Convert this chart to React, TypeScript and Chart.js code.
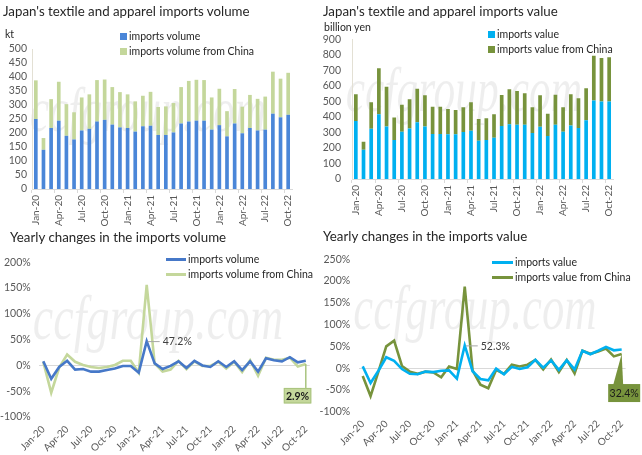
import React, { useEffect, useRef } from 'react';
import { Chart, registerables } from 'chart.js';
Chart.register(...registerables);

const months = ['Jan-20','Feb-20','Mar-20','Apr-20','May-20','Jun-20','Jul-20','Aug-20','Sep-20','Oct-20','Nov-20','Dec-20','Jan-21','Feb-21','Mar-21','Apr-21','May-21','Jun-21','Jul-21','Aug-21','Sep-21','Oct-21','Nov-21','Dec-21','Jan-22','Feb-22','Mar-22','Apr-22','May-22','Jun-22','Jul-22','Aug-22','Sep-22','Oct-22'];

// kt
const importsVolume = [250,140,218,244,190,177,209,215,241,247,230,220,218,205,224,226,193,193,202,234,241,244,244,212,228,188,234,199,218,209,212,269,256,265];
const importsVolumeChina = [138,42,103,139,113,97,118,123,148,144,134,126,120,108,109,121,100,102,105,130,145,146,145,115,130,90,123,95,118,113,118,150,138,150];
// billion yen
const importsValue = [374,189,324,417,339,251,305,326,365,339,290,290,288,288,303,311,247,251,266,341,352,350,349,296,337,277,350,305,344,329,378,505,500,500];
const importsValueChina = [172,51,170,296,256,146,174,187,217,200,176,176,163,157,159,183,140,140,151,200,226,217,203,166,202,144,193,157,202,191,206,289,280,284];
// yearly changes, %
const volumeYoY = [8,-26,-3,9,-8,-7,-12,-12,-9,-6,-1,-1,-14,47.2,4,-7,-1,8,-5,9,0,-3,8,-3,8,-9,8,-12,14,10,8,16,6,9];
const volumeChinaYoY = [7,-53,-4,21,7,1,-3,-5,-3,1,9,9,-14,156,4,-12,-8,9,-7,8,-1,-1,7,-6,7,-13,10,-20,15,11,11,15,-2,2.9];
const valueYoY = [4,-34,-6,25,17,-2,-13,-14,-8,-9,-6,-5,-24,52.3,-7,-25,-28,-1,-14,3,-2,2,19,1,18,-4,18,-3,40,32,40,49,41,43];
const valueChinaYoY = [-18,-64,-8,50,63,5,-8,-13,-8,-10,-21,4,-2,187,-5,-38,-46,-4,-13,8,4,8,19,-3,20,-9,19,-12,40,33,38,45,27,32.4];

const FONT = 'Lato, "Noto Sans", sans-serif';
const FS = 10.5;
const tickFont = { family: FONT, size: FS, lineHeight: 1 };
const xTickFont = { family: FONT, size: 10, lineHeight: 1 };
const tickColor = '#595959';
const textColor = '#262626';

const C_VOL = '#4a86d8';
const C_VOL_CN = '#c4d79b';
const C_VAL = '#00b0f0';
const C_VAL_CN = '#77933c';
const C_LINE_VOL = '#4678c8';

const monthTick = (_v: any, i: number) => (i % 3 === 0 ? months[i] : '');

function barConfig(a: number[], b: number[], la: string, lb: string, ca: string, cb: string, max: number, step: number, pad: any, xh: number, yw: number, ypad: number): any {
  return {
    type: 'bar',
    data: {
      labels: months,
      datasets: [
        { label: la, data: a, backgroundColor: ca, stack: 's', barPercentage: 0.48, categoryPercentage: 1 },
        { label: lb, data: b, backgroundColor: cb, stack: 's', barPercentage: 0.48, categoryPercentage: 1 },
      ],
    },
    options: {
      responsive: false,
      animation: false,
      maintainAspectRatio: false,
      layout: { padding: pad },
      plugins: { legend: { display: false }, tooltip: { enabled: false }, title: { display: false } },
      scales: {
        x: {
          stacked: true,
          offset: true,
          grid: {
            offset: true,
            drawOnChartArea: false,
            drawTicks: true,
            tickLength: 4,
            color: (c: any) => (c.index % 3 === 0 ? '#d9d9d9' : 'rgba(0,0,0,0)'),
          },
          border: { color: '#d9d9d9', width: 1 },
          ticks: { autoSkip: false, minRotation: 90, maxRotation: 90, padding: 2, font: xTickFont, color: tickColor, callback: monthTick },
          afterFit: (s: any) => { s.height = xh; },
        },
        y: {
          stacked: true,
          min: 0,
          max,
          grid: { display: false, drawTicks: false },
          border: { color: '#e3e0d4', width: 1 },
          ticks: { stepSize: step, autoSkip: false, padding: ypad, font: tickFont, color: tickColor },
          afterFit: (s: any) => { s.width = yw; },
        },
      },
    },
  };
}

function calloutPlugin(items: any[]) {
  return {
    id: 'callouts',
    afterDatasetsDraw(chart: any) {
      const ctx = chart.ctx;
      items.forEach((it) => {
        const el = chart.getDatasetMeta(it.ds).data[it.idx];
        const v = chart.data.datasets[it.ds].data[it.idx];
        const x = el.x;
        const y = el.y;
        const label = v + '%';
        ctx.save();
        if (it.kind === 'plain') {
          ctx.strokeStyle = '#a6a6a6';
          ctx.lineWidth = 1;
          ctx.beginPath();
          ctx.moveTo(x + 1, y + 0.5);
          ctx.lineTo(x + 13, y + 0.5);
          ctx.stroke();
          ctx.fillStyle = '#404040';
          ctx.font = FS + 'px ' + FONT;
          ctx.textAlign = 'left';
          ctx.textBaseline = 'middle';
          ctx.fillText(label, x + 16, y + 1);
        } else if (it.kind === 'boxLine') {
          const l = x - 22, r = x + 5.5, t = y + 24, b = y + 39.5;
          ctx.strokeStyle = it.line;
          ctx.lineWidth = 1.5;
          ctx.beginPath();
          ctx.moveTo(x, y);
          ctx.lineTo(x, t);
          ctx.stroke();
          ctx.fillStyle = it.fill;
          ctx.fillRect(l, t, r - l, b - t);
          ctx.strokeStyle = it.line;
          ctx.lineWidth = 1;
          ctx.strokeRect(l + 0.5, t + 0.5, r - l - 1, b - t - 1);
          ctx.fillStyle = '#1a1a1a';
          ctx.font = 'bold ' + FS + 'px ' + FONT;
          ctx.textAlign = 'center';
          ctx.textBaseline = 'middle';
          ctx.fillText(label, (l + r) / 2, (t + b) / 2 + 0.5);
        } else if (it.kind === 'boxWedge') {
          const l = x - 13.5, r = x + 18.5, t = y + 30, b = y + 48;
          ctx.fillStyle = it.fill;
          ctx.beginPath();
          ctx.moveTo(x, y);
          ctx.lineTo(x - 8.5, t + 1);
          ctx.lineTo(x + 1.5, t + 1);
          ctx.closePath();
          ctx.fill();
          ctx.fillRect(l, t, r - l, b - t);
          ctx.fillStyle = '#1a1a1a';
          ctx.font = FS + 'px ' + FONT;
          ctx.textAlign = 'center';
          ctx.textBaseline = 'middle';
          ctx.fillText(label, (l + r) / 2, (t + b) / 2 + 0.5);
        }
        ctx.restore();
      });
    },
  };
}

function lineConfig(a: number[], b: number[], la: string, lb: string, ca: string, cb: string, min: number, max: number, pad: any, xh: number, yw: number, callouts: any[]): any {
  return {
    type: 'line',
    data: {
      labels: months,
      datasets: [
        { label: la, data: a, borderColor: ca, backgroundColor: ca, borderWidth: 2.6, pointRadius: 0, tension: 0, fill: false },
        { label: lb, data: b, borderColor: cb, backgroundColor: cb, borderWidth: 2.6, pointRadius: 0, tension: 0, fill: false },
      ],
    },
    options: {
      responsive: false,
      animation: false,
      maintainAspectRatio: false,
      layout: { padding: pad },
      plugins: { legend: { display: false }, tooltip: { enabled: false } },
      scales: {
        x: {
          offset: true,
          grid: { display: false, drawTicks: false },
          border: { display: false },
          ticks: { autoSkip: false, minRotation: 45, maxRotation: 45, padding: 7, font: xTickFont, color: tickColor, callback: monthTick },
          afterFit: (s: any) => { s.height = xh; },
        },
        y: {
          min,
          max,
          grid: { drawTicks: false, color: (c: any) => (c.tick && c.tick.value === 0 ? '#d9d9d9' : 'rgba(0,0,0,0)'), lineWidth: 1 },
          border: { display: false },
          ticks: { stepSize: 50, autoSkip: false, padding: 8.6, font: tickFont, color: tickColor, callback: (v: any) => v + '%' },
          afterFit: (s: any) => { s.width = yw; },
        },
      },
    },
    plugins: [calloutPlugin(callouts)],
  };
}

function ChartPanel(props: { left: number; top: number; width: number; height: number; make: () => any }) {
  const ref = useRef<HTMLCanvasElement | null>(null);
  useEffect(() => {
    const chart = new Chart(ref.current as HTMLCanvasElement, props.make());
    return () => chart.destroy();
  }, []);
  return (
    <canvas
      ref={ref}
      width={props.width}
      height={props.height}
      style={{ position: 'absolute', left: props.left, top: props.top, width: props.width, height: props.height, zIndex: 2 }}
    />
  );
}

function Text(props: { x: number; y: number; size?: number; children: any; bold?: boolean }) {
  const size = props.size || FS;
  return (
    <div
      style={{
        position: 'absolute',
        left: props.x,
        top: props.y - size * 0.6,
        fontSize: size,
        lineHeight: size * 1.2 + 'px',
        color: textColor,
        whiteSpace: 'nowrap',
        fontWeight: props.bold ? 'bold' : 'normal',
        zIndex: 3,
      }}
    >
      {props.children}
    </div>
  );
}

function BoxKey(props: { x: number; y: number; color: string; label: string }) {
  return (
    <>
      <div style={{ position: 'absolute', left: props.x, top: props.y - 3.5, width: 7, height: 7, background: props.color, zIndex: 3 }} />
      <Text x={props.x + 9} y={props.y}>{props.label}</Text>
    </>
  );
}

function LineKey(props: { x: number; y: number; color: string; label: string; w: number }) {
  return (
    <>
      <div style={{ position: 'absolute', left: props.x, top: props.y - 1.5, width: props.w, height: 3, background: props.color, zIndex: 3 }} />
      <Text x={props.x + props.w + 2} y={props.y}>{props.label}</Text>
    </>
  );
}

function Watermark(props: { cx: number; cy: number; scale: number }) {
  return (
    <div
      style={{
        position: 'absolute',
        left: props.cx,
        top: props.cy,
        transform: `translate(-50%, -50%) scaleX(${props.scale})`,
        fontFamily: '"Liberation Serif", serif',
        fontStyle: 'italic',
        fontSize: 64,
        lineHeight: '64px',
        color: 'rgba(0,0,0,0.065)',
        whiteSpace: 'nowrap',
        zIndex: 1,
      }}
    >
      ccfgroup.com
    </div>
  );
}

export default function App() {
  return (
    <div
      style={{
        position: 'fixed',
        left: 0,
        top: 0,
        width: 642,
        height: 455,
        background: '#ffffff',
        overflow: 'hidden',
        fontFamily: FONT,
      }}
    >
      <Watermark cx={148} cy={110} scale={0.68} />
      <Watermark cx={464} cy={90} scale={0.68} />
      <Watermark cx={158} cy={318} scale={0.72} />
      <Watermark cx={475} cy={308} scale={0.7} />

      <ChartPanel left={0} top={0} width={320} height={230}
        make={() => barConfig(importsVolume, importsVolumeChina, 'imports volume', 'imports volume from China', C_VOL, C_VOL_CN, 500, 50, { left: 0, right: 28, top: 49, bottom: 0 }, 41, 32, 5)} />
      <ChartPanel left={320} top={0} width={322} height={225}
        make={() => barConfig(importsValue, importsValueChina, 'imports value', 'imports value from China', C_VAL, C_VAL_CN, 900, 100, { left: 0, right: 29, top: 39.3, bottom: 0 }, 46, 32, 11)} />
      <ChartPanel left={0} top={225} width={320} height={230}
        make={() => lineConfig(volumeYoY, volumeChinaYoY, 'imports volume', 'imports volume from China', C_LINE_VOL, C_VOL_CN, -100, 200, { left: 0, right: 9.3, top: 37.3, bottom: 0 }, 38, 39.3,
          [{ kind: 'plain', ds: 0, idx: 13 }, { kind: 'boxLine', ds: 1, idx: 33, fill: C_VOL_CN, line: '#a9c47f' }])} />
      <ChartPanel left={320} top={225} width={322} height={230}
        make={() => lineConfig(valueYoY, valueChinaYoY, 'imports value', 'imports value from China', C_VAL, C_VAL_CN, -100, 250, { left: 0, right: 16.4, top: 34.3, bottom: 0 }, 43.3, 38.8,
          [{ kind: 'plain', ds: 0, idx: 13 }, { kind: 'boxWedge', ds: 1, idx: 33, fill: C_VAL_CN }])} />

      <Text x={3} y={12} size={13.3}>Japan's textile and apparel imports volume</Text>
      <Text x={5} y={34}>kt</Text>
      <BoxKey x={120} y={36} color={C_VOL} label="imports volume" />
      <BoxKey x={120} y={51} color={C_VOL_CN} label="imports volume from China" />

      <Text x={323} y={12} size={13.3}>Japan's textile and apparel imports value</Text>
      <Text x={324} y={27}>billion yen</Text>
      <BoxKey x={488} y={34} color={C_VAL} label="imports value" />
      <BoxKey x={488} y={49} color={C_VAL_CN} label="imports value from China" />

      <Text x={10} y={238} size={13.3}>Yearly changes in the imports volume</Text>
      <LineKey x={166} y={259.3} w={20} color={C_LINE_VOL} label="imports volume" />
      <LineKey x={166} y={274.3} w={20} color={C_VOL_CN} label="imports volume from China" />

      <Text x={323} y={237} size={13.3}>Yearly changes in the imports value</Text>
      <LineKey x={492} y={262.7} w={21} color={C_VAL} label="imports value" />
      <LineKey x={492} y={277.7} w={21} color={C_VAL_CN} label="imports value from China" />
    </div>
  );
}
